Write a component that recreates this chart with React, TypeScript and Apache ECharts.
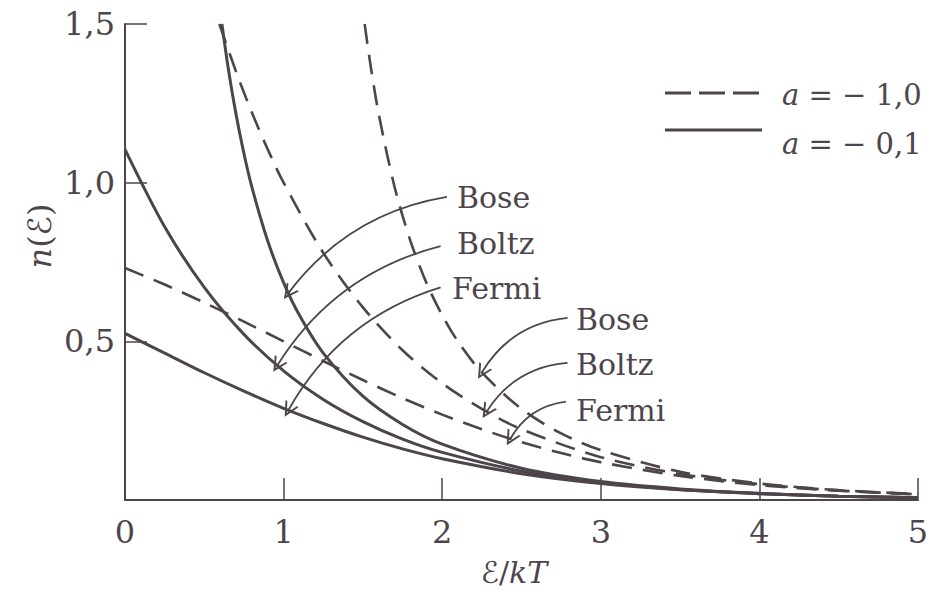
import React, { useEffect, useRef } from "react";
import * as echarts from "echarts";

// x = ε/kT, y = n(ε)
const xTicks = [0, 1, 2, 3, 4, 5];
const yTicks = [0.5, 1.0, 1.5];

// a = -0,1 (solid)
const boseSolid = [[0.611, 1.5], [0.65, 1.364], [0.7, 1.216], [0.75, 1.092], [0.8, 0.986], [0.9, 0.816], [1.0, 0.685], [1.1, 0.582], [1.25, 0.463], [1.5, 0.327], [1.75, 0.238], [2.0, 0.176], [2.5, 0.1], [3.0, 0.058], [3.5, 0.035], [4.0, 0.021], [4.5, 0.012], [5.0, 0.008]];
const boltzSolid = [[0, 1.105], [0.25, 0.861], [0.5, 0.67], [0.75, 0.522], [1, 0.407], [1.25, 0.317], [1.5, 0.247], [1.75, 0.192], [2, 0.15], [2.5, 0.091], [3, 0.055], [3.5, 0.033], [4, 0.02], [4.5, 0.012], [5, 0.007]];
const fermiSolid = [[0, 0.525], [0.25, 0.463], [0.5, 0.401], [0.75, 0.343], [1, 0.289], [1.25, 0.241], [1.5, 0.198], [1.75, 0.161], [2, 0.13], [2.5, 0.083], [3, 0.052], [3.5, 0.032], [4, 0.02], [4.5, 0.012], [5, 0.007]];

// a = -1,0 (dashed)
const boseDashed = [[1.511, 1.5], [1.55, 1.364], [1.6, 1.216], [1.7, 0.986], [1.8, 0.816], [1.9, 0.685], [2.0, 0.582], [2.1, 0.499], [2.25, 0.402], [2.5, 0.287], [2.75, 0.21], [3, 0.157], [3.5, 0.089], [4, 0.052], [4.5, 0.031], [5, 0.019]];
const boltzDashed = [[0.595, 1.5], [0.7, 1.35], [0.8, 1.221], [0.9, 1.105], [1, 1.0], [1.25, 0.779], [1.5, 0.607], [1.75, 0.472], [2, 0.368], [2.25, 0.287], [2.5, 0.223], [3, 0.135], [3.5, 0.082], [4, 0.05], [4.5, 0.03], [5, 0.018]];
const fermiDashed = [[0, 0.731], [0.25, 0.679], [0.5, 0.622], [0.75, 0.562], [1, 0.5], [1.25, 0.438], [1.5, 0.378], [1.75, 0.321], [2, 0.269], [2.25, 0.223], [2.5, 0.182], [2.75, 0.148], [3, 0.119], [3.5, 0.076], [4, 0.047], [4.5, 0.029], [5, 0.018]];

// annotation arrows: [from, to] in data coordinates
const arrowsSolid = [
  [[2.03, 0.955], [1.03, 0.652]],
  [[1.99, 0.8], [0.96, 0.424]],
  [[1.99, 0.67], [1.03, 0.283]],
];
const arrowsDashed = [
  [[2.79, 0.574], [2.25, 0.402]],
  [[2.79, 0.432], [2.28, 0.278]],
  [[2.78, 0.31], [2.43, 0.193]],
];
const labelNames = ["Bose", "Boltz", "Fermi"];
const legendTexts = ["{i|a} = − 1,0", "{i|a} = − 0,1"];

const INK = "#4d454b";
const FONT = '"DejaVu Serif", "DejaVu Sans", serif';

export default function App() {
  const ref = useRef<HTMLDivElement>(null);
  useEffect(() => {
    if (!ref.current) return;
    const chart = echarts.init(ref.current, null, { renderer: "svg" });
    const curve = (data: number[][], dashed: boolean) => ({
      type: "line",
      data,
      showSymbol: false,
      smooth: 0.3,
      clip: true,
      lineStyle: { color: INK, width: dashed ? 2.6 : 3, type: dashed ? [20, 11] : "solid" },
      z: 3,
    });
    const arrowSeries = (arrows: number[][][], curveness: number) => ({
      type: "lines",
      coordinateSystem: "cartesian2d",
      polyline: false,
      symbol: ["none", "path://M5,0 L10,10 L8.6,10 L5,2.9 L1.4,10 L0,10 Z"],
      symbolSize: [14, 15],
      symbolOffset: [0, 7.5],
      lineStyle: { color: INK, width: 1.8, curveness, opacity: 1 },
      data: arrows.map((c) => ({ coords: c })),
      z: 4,
    });
    const labelG1 = [[457, 197], [457, 243], [452, 288]];
    const labelG2 = [[576, 319], [576, 364], [576, 410]];
    const labelText = (pos: number[], t: string) => ({
      type: "text",
      x: pos[0],
      y: pos[1],
      style: { text: t, fontFamily: FONT, fontSize: 30, fill: INK, align: "left", verticalAlign: "middle" },
    });
    chart.setOption({
      animation: false,
      backgroundColor: "#ffffff",
      grid: { left: 125, top: 24, right: 24, bottom: 94, containLabel: false, outerBoundsMode: "none" },
      xAxis: {
        type: "value",
        min: 0,
        max: 5,
        interval: 1,
        axisLine: { lineStyle: { color: INK, width: 2 } },
        axisTick: { inside: true, length: 22, lineStyle: { color: INK, width: 1.5 } },
        splitLine: { show: false },
        axisLabel: {
          color: INK,
          fontFamily: FONT,
          fontSize: 32,
          margin: 16,
          formatter: (v: number) => (xTicks.includes(v) ? String(v) : ""),
        },
      },
      yAxis: {
        type: "value",
        min: 0,
        max: 1.5,
        interval: 0.5,
        axisLine: { lineStyle: { color: INK, width: 2 } },
        axisTick: { inside: true, length: 22, lineStyle: { color: INK, width: 1.5 } },
        splitLine: { show: false },
        axisLabel: {
          color: INK,
          fontFamily: FONT,
          fontSize: 32,
          margin: 10,
          formatter: (v: number) => (yTicks.includes(v) ? v.toFixed(1).replace(".", ",") : ""),
        },
      },
      series: [
        curve(boseSolid, false),
        curve(boltzSolid, false),
        curve(fermiSolid, false),
        curve(boseDashed, true),
        curve(boltzDashed, true),
        curve(fermiDashed, true),
        arrowSeries(arrowsSolid, -0.2),
        arrowSeries(arrowsDashed, -0.25),
      ],
      graphic: [
        { type: "line", shape: { x1: 665, y1: 93, x2: 762, y2: 93 }, style: { stroke: INK, lineWidth: 3, lineDash: [26, 8] } },
        { type: "line", shape: { x1: 665, y1: 130, x2: 762, y2: 130 }, style: { stroke: INK, lineWidth: 3 } },
        {
          type: "text",
          x: 782,
          y: 95,
          style: {
            text: legendTexts[0],
            fontFamily: FONT,
            fontSize: 29,
            fill: INK,
            verticalAlign: "middle",
            rich: { i: { fontStyle: "italic", fontFamily: FONT, fontSize: 29, fill: INK } },
          },
        },
        {
          type: "text",
          x: 782,
          y: 144,
          style: {
            text: legendTexts[1],
            fontFamily: FONT,
            fontSize: 29,
            fill: INK,
            verticalAlign: "middle",
            rich: { i: { fontStyle: "italic", fontFamily: FONT, fontSize: 29, fill: INK } },
          },
        },
        ...labelG1.map((p, i) => labelText(p, labelNames[i])),
        ...labelG2.map((p, i) => labelText(p, labelNames[i])),
        {
          type: "text",
          x: 40,
          y: 236,
          rotation: Math.PI / 2,
          style: {
            text: "{i|n}(ℰ)",
            fontFamily: FONT,
            fontSize: 32,
            fill: INK,
            align: "center",
            verticalAlign: "middle",
            rich: { i: { fontStyle: "italic", fontFamily: FONT, fontSize: 32, fill: INK } },
          },
        },
        {
          type: "text",
          x: 514,
          y: 572,
          style: {
            text: "ℰ/{i|kT}",
            fontFamily: FONT,
            fontSize: 30,
            fill: INK,
            align: "center",
            verticalAlign: "middle",
            rich: { i: { fontStyle: "italic", fontFamily: FONT, fontSize: 30, fill: INK } },
          },
        },
      ],
    });
    return () => chart.dispose();
  }, []);
  return (
    <div
      ref={ref}
      style={{ position: "fixed", left: 0, top: 0, width: 942, height: 594, background: "#fff" }}
    />
  );
}
